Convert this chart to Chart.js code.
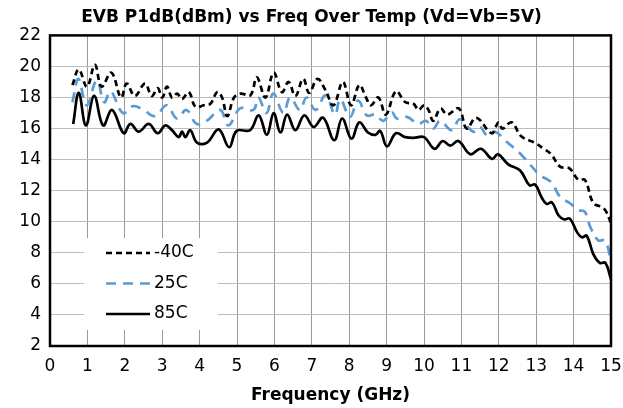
<!DOCTYPE html>
<html>
<head>
<meta charset="utf-8">
<script src="https://cdn.jsdelivr.net/npm/chart.js@4/dist/chart.umd.min.js"></script>
<style>
  body { margin: 0; background: #fff; }
  canvas { display: block; }
</style>
</head>
<body>
<canvas id="plot" width="623" height="408"></canvas>
<script>

// P1dB (dBm), per temperature
var freqM40 = [0.6,0.77,0.99,1.2,1.38,1.64,1.9,2.05,2.27,2.54,2.72,2.88,3.0,3.13,3.26,3.4,3.53,3.71,3.89,4.11,4.29,4.47,4.6,4.74,4.92,5.1,5.36,5.53,5.76,5.98,6.2,6.38,6.56,6.77,6.93,7.15,7.36,7.58,7.83,8.05,8.27,8.45,8.58,8.78,8.98,9.25,9.5,9.72,9.85,10.0,10.12,10.25,10.44,10.62,10.93,11.14,11.4,11.81,11.99,12.1,12.34,12.6,12.95,13.2,13.4,13.64,13.88,14.13,14.3,14.53,14.75,14.86,15.0];
var pM40 = [18.8,19.8,18.7,20.1,18.7,19.6,18.0,18.9,18.1,18.9,18.1,18.6,18.0,18.7,18.0,18.25,17.9,18.35,17.4,17.5,17.6,18.35,18.0,16.8,18.0,18.25,18.15,19.3,18.0,19.6,18.35,19.0,18.1,19.2,18.3,19.2,18.5,17.5,19.0,17.5,18.8,18.0,17.5,18.0,16.9,18.4,17.7,17.6,17.2,17.5,17.2,16.5,17.3,16.9,17.3,16.0,16.7,15.7,16.4,16.0,16.4,15.5,15.1,14.7,14.35,13.55,13.45,12.7,12.7,11.2,10.95,10.7,9.9];

var freq25 = [0.6,0.76,0.98,1.25,1.45,1.62,1.95,2.22,2.5,2.81,3.12,3.39,3.65,3.92,4.19,4.55,4.77,5.08,5.44,5.57,5.79,5.97,6.24,6.42,6.68,6.86,7.1,7.37,7.62,7.76,8.02,8.24,8.47,8.7,8.91,9.14,9.27,9.54,9.85,10.05,10.25,10.43,10.74,10.96,11.32,11.5,11.68,11.9,12.21,12.57,12.85,13.1,13.4,13.64,13.9,14.13,14.3,14.44,14.66,14.84,15.0];
var p25 = [17.7,19.2,17.5,19.1,17.7,18.4,17.0,17.45,17.2,16.8,17.5,16.65,17.2,16.3,16.5,17.2,16.2,17.3,17.2,18.0,17.0,18.25,17.0,18.0,17.2,18.0,17.2,18.15,16.9,17.9,16.75,17.8,16.85,16.9,16.5,17.05,16.65,16.75,16.3,16.5,16.0,16.5,15.9,16.6,15.8,16.1,15.6,15.8,15.15,14.4,13.65,13.0,12.55,11.6,11.2,10.75,10.65,9.7,8.8,8.8,7.5];

var freq85 = [0.62,0.77,0.96,1.18,1.42,1.66,1.97,2.15,2.37,2.64,2.88,3.08,3.26,3.44,3.53,3.62,3.75,3.93,4.2,4.51,4.79,4.99,5.35,5.58,5.8,5.98,6.16,6.34,6.56,6.8,7.05,7.3,7.6,7.81,8.06,8.27,8.5,8.7,8.83,9.01,9.25,9.5,9.72,10.0,10.28,10.5,10.7,10.92,11.24,11.52,11.82,11.98,12.25,12.57,12.82,12.97,13.15,13.28,13.42,13.6,13.75,13.9,14.1,14.22,14.35,14.53,14.7,14.85,15.0];
var p85 = [16.3,18.3,16.2,18.1,16.2,17.2,15.7,16.3,15.8,16.3,15.7,16.2,15.9,15.45,15.8,15.45,15.9,15.1,15.1,15.95,14.8,15.85,15.9,16.85,15.6,17.0,15.75,16.9,15.9,16.85,16.1,16.7,15.25,16.65,15.35,16.4,15.75,15.6,15.85,14.85,15.7,15.45,15.4,15.45,14.7,15.2,14.9,15.2,14.35,14.7,14.05,14.35,13.7,13.3,12.35,12.4,11.55,11.15,11.25,10.4,10.15,10.2,9.3,9.0,9.1,7.9,7.35,7.35,6.3];

var seriesNames = ['-40C', '25C', '85C'];

function pairs(xs, ys) {
    return xs.map(function (x, i) { return { x: x, y: ys[i] }; });
}

var FONT = "'DejaVu Sans', sans-serif";

// frame round the plot + legend box inside the plot, lower left
var framePlugin = {
    id: 'frame',
    afterDatasetsDraw: function (chart) {
        var a = chart.chartArea, ctx = chart.ctx;
        ctx.save();
        ctx.strokeStyle = '#000';
        ctx.lineWidth = 2.5;
        ctx.strokeRect(a.left, a.top, a.right - a.left, a.bottom - a.top);

        var bx = a.left + 34, by = a.bottom - 108;
        ctx.fillStyle = '#fff';
        ctx.fillRect(bx, by, 134, 92);
        ctx.font = '17px ' + FONT;
        ctx.textBaseline = 'middle';
        chart.data.datasets.forEach(function (ds, i) {
            var y = by + 15 + i * 30.5;
            ctx.beginPath();
            ctx.strokeStyle = ds.borderColor;
            ctx.lineWidth = ds.borderWidth;
            ctx.setLineDash(ds.borderDash || []);
            ctx.moveTo(bx + 22, y);
            ctx.lineTo(bx + 66, y);
            ctx.stroke();
            ctx.setLineDash([]);
            ctx.fillStyle = '#000';
            ctx.fillText(ds.label, bx + 70, y);
        });
        ctx.restore();
    }
};

new Chart(document.getElementById('plot'), {
    type: 'line',
    data: {
        datasets: [
            {
                label: seriesNames[0],
                data: pairs(freqM40, pM40),
                borderColor: '#000000',
                borderDash: [6, 4],
                borderWidth: 2.7
            },
            {
                label: seriesNames[1],
                data: pairs(freq25, p25),
                borderColor: '#5b9bd5',
                borderDash: [10, 7],
                borderWidth: 2.7
            },
            {
                label: seriesNames[2],
                data: pairs(freq85, p85),
                borderColor: '#000000',
                borderWidth: 2.7
            }
        ]
    },
    options: {
        responsive: false,
        animation: false,
        elements: {
            point: { radius: 0 },
            line: { tension: 0.4, fill: false }
        },
        layout: { padding: 0 },
        plugins: {
            legend: { display: false },
            tooltip: { enabled: false },
            title: {
                display: true,
                text: 'EVB P1dB(dBm) vs Freq Over Temp (Vd=Vb=5V)',
                color: '#000',
                font: { family: FONT, size: 17, weight: 'bold' },
                padding: { top: 7, bottom: 8 }
            }
        },
        scales: {
            x: {
                type: 'linear',
                min: 0,
                max: 15,
                ticks: {
                    stepSize: 1,
                    color: '#000',
                    padding: 10,
                    maxRotation: 0,
                    font: { family: FONT, size: 17 }
                },
                grid: { color: '#9a9a9a', drawTicks: false },
                border: { display: false },
                title: {
                    display: true,
                    text: 'Frequency (GHz)',
                    color: '#000',
                    font: { family: FONT, size: 17, weight: 'bold' },
                    padding: { top: 0, bottom: 2 }
                },
                afterFit: function (s) { s.height = 62; s.paddingRight = 12; }
            },
            y: {
                min: 2,
                max: 22,
                ticks: {
                    stepSize: 2,
                    color: '#000',
                    padding: 9,
                    font: { family: FONT, size: 17 }
                },
                grid: { color: '#bdbdbd', drawTicks: false },
                border: { display: false },
                afterFit: function (s) { s.width = 50; }
            }
        }
    },
    plugins: [framePlugin]
});
</script>
</body>
</html>
